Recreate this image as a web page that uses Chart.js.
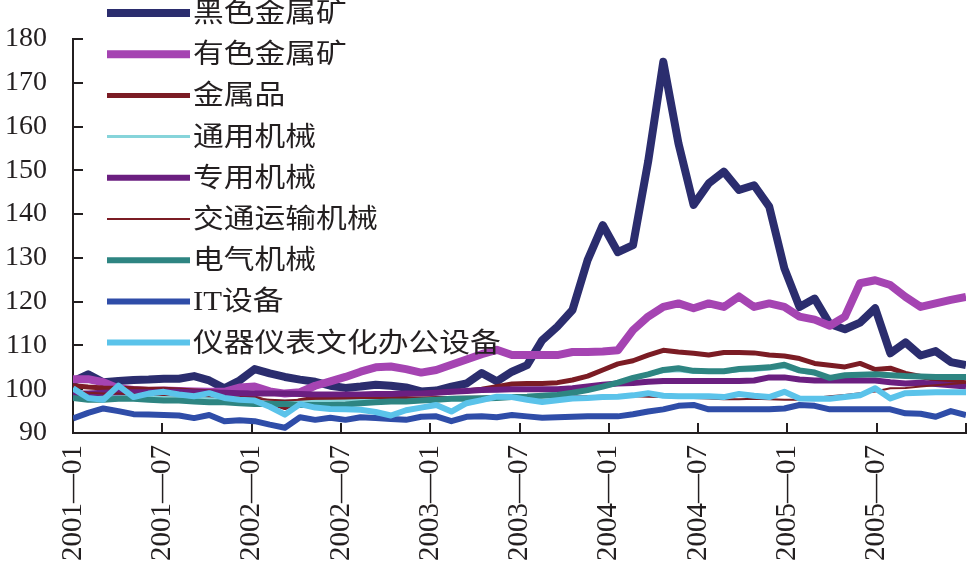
<!DOCTYPE html>
<html lang="zh">
<head>
    <meta charset="UTF-8">
    <title>金属及机械行业价格指数</title>
    <script src="https://cdn.jsdelivr.net/npm/chart.js@4.4.1/dist/chart.umd.min.js"></script>
    <style>
        body {
            margin: 0;
            background: #ffffff;
        }
        .wrap {
            width: 970px;
            height: 562px;
            position: relative;
        }
    </style>
</head>
<body>
    <div class="wrap"><canvas id="chart"></canvas></div>

    <script>
        // months 2001-01 .. 2005-12
        const months = [];
        for (let yr = 2001; yr <= 2005; yr++) {
            for (let m = 1; m <= 12; m++) months.push(yr + '-' + String(m).padStart(2, '0'));
        }

        const xTickLabels = ['2001—01', '2001—07', '2002—01', '2002—07', '2003—01',
                             '2003—07', '2004—01', '2004—07', '2005—01', '2005—07', ''];
        const yTicks = [90, 100, 110, 120, 130, 140, 150, 160, 170, 180];

        const seriesNames = ['黑色金属矿', '有色金属矿', '金属品', '通用机械', '专用机械',
                             '交通运输机械', '电气机械', 'IT设备', '仪器仪表文化办公设备'];

        const ferrousOre = [101.8, 103.4, 101.6, 101.9, 102.1, 102.2, 102.4, 102.4, 103.0, 102.0,
                            100.2, 102.0, 104.6, 103.6, 102.8, 102.2, 101.7, 100.8, 100.3, 100.6,
                            101.0, 100.8, 100.4, 99.5, 99.7, 100.6, 101.3, 103.7, 101.8, 104.0,
                            105.5, 111.2, 114.3, 118.1, 129.5, 137.5, 131.3, 132.9, 152.0, 174.8,
                            156.2, 142.1, 147.0, 149.7, 145.5, 146.6, 141.7, 127.6, 118.8, 120.7,
                            114.9, 113.7, 115.2, 118.5, 108.2, 110.7, 107.7, 108.7, 106.2, 105.5];
        const nonferrousOre = [102.3, 102.3, 101.6, 100.2, 99.8, 99.6, 99.7, 99.6, 99.5, 99.4,
                               99.4, 100.4, 100.6, 99.5, 99.0, 99.3, 100.8, 101.8, 102.8, 104.0,
                               105.0, 105.2, 104.6, 103.8, 104.4, 105.6, 106.8, 108.0, 109.0, 107.8,
                               107.8, 107.8, 107.8, 108.5, 108.5, 108.6, 108.9, 113.5, 116.6, 118.8,
                               119.6, 118.5, 119.6, 118.8, 121.2, 118.8, 119.6, 118.8, 116.6, 115.9,
                               114.5, 116.6, 124.2, 124.9, 123.8, 121.1, 118.8, 119.6, 120.4, 121.1];
        const metalProducts = [100.8, 100.5, 100.3, 100.2, 100.1, 100.0, 100.0, 99.8, 99.6, 99.4,
                               99.2, 98.6, 98.0, 97.0, 95.8, 97.4, 98.0, 98.2, 98.3, 98.4,
                               98.5, 98.6, 98.8, 99.0, 99.2, 99.4, 99.6, 100.0, 100.6, 101.2,
                               101.3, 101.3, 101.5, 102.1, 103.0, 104.4, 105.8, 106.5, 107.8, 108.9,
                               108.5, 108.2, 107.8, 108.4, 108.4, 108.3, 107.8, 107.6, 107.0, 105.9,
                               105.5, 105.1, 105.9, 104.5, 104.8, 103.6, 102.9, 102.2, 101.8, 101.5];
        const generalMachinery = [98.8, 98.6, 98.5, 98.5, 98.4, 98.3, 98.2, 98.1, 98.0, 97.9,
                                  97.8, 97.7, 97.6, 97.4, 97.3, 97.3, 97.3, 97.4, 97.5, 97.6,
                                  97.7, 97.8, 97.8, 97.9, 98.0, 98.1, 98.2, 98.3, 98.4, 98.5,
                                  98.6, 98.8, 99.0, 99.4, 100.0, 100.8, 101.6, 102.4, 103.2, 104.0,
                                  104.2, 103.8, 103.8, 103.9, 104.2, 104.3, 104.6, 105.0, 104.0, 103.5,
                                  102.8, 103.0, 103.1, 103.2, 103.0, 102.9, 102.8, 102.8, 102.7, 102.7];
        const specialMachinery = [99.0, 99.0, 99.2, 99.3, 99.3, 99.3, 99.4, 99.4, 99.3, 99.2,
                                  99.2, 99.1, 99.0, 99.0, 99.0, 98.9, 98.8, 98.8, 98.8, 98.8,
                                  98.9, 98.9, 99.0, 99.0, 99.2, 99.4, 99.6, 99.8, 99.9, 100.0,
                                  100.0, 100.0, 100.0, 100.2, 100.6, 101.0, 101.3, 101.4, 101.7, 101.9,
                                  101.9, 101.9, 101.9, 101.9, 101.9, 102.0, 102.7, 102.7, 102.2, 102.0,
                                  102.0, 102.0, 102.0, 102.0, 101.6, 101.3, 101.5, 101.2, 100.9, 100.6];
        const transportMachinery = [99.6, 99.2, 99.0, 99.0, 98.8, 98.8, 98.7, 98.6, 98.5, 98.4,
                                    98.2, 98.0, 97.8, 97.6, 97.4, 97.6, 97.8, 97.8, 97.9, 98.0,
                                    98.0, 98.0, 98.0, 98.1, 98.2, 98.2, 98.3, 98.3, 98.4, 98.4,
                                    98.4, 98.3, 98.3, 98.4, 98.4, 98.5, 98.5, 98.4, 98.3, 98.2,
                                    98.1, 98.0, 97.9, 97.7, 97.7, 97.8, 97.7, 97.6, 97.6, 98.0,
                                    98.4, 98.7, 99.1, 99.5, 100.2, 100.3, 100.6, 100.9, 101.2, 101.5];
        const electricMachinery = [98.0, 97.6, 97.6, 97.8, 97.8, 97.6, 97.4, 97.4, 97.2, 97.0,
                                   97.0, 96.8, 96.6, 96.6, 96.6, 96.4, 96.4, 96.4, 96.5, 96.8,
                                   97.0, 97.2, 97.2, 97.4, 97.6, 97.8, 97.8, 97.9, 98.0, 98.2,
                                   98.3, 98.5, 98.7, 99.2, 99.8, 100.6, 101.5, 102.6, 103.4, 104.4,
                                   104.8, 104.2, 104.1, 104.1, 104.6, 104.8, 105.0, 105.6, 104.3, 103.8,
                                   102.6, 103.2, 103.3, 103.4, 103.2, 103.0, 102.9, 102.8, 102.8, 102.8];
        const itEquipment = [93.3, 94.6, 95.6, 95.0, 94.3, 94.2, 94.1, 94.0, 93.4, 94.1,
                             92.7, 92.9, 92.7, 91.9, 91.2, 93.6, 93.0, 93.5, 93.0, 93.6,
                             93.4, 93.2, 93.0, 93.7, 93.8, 92.7, 93.7, 93.8, 93.6, 94.1,
                             93.8, 93.5, 93.6, 93.7, 93.8, 93.8, 93.8, 94.3, 94.9, 95.4,
                             96.2, 96.4, 95.4, 95.4, 95.4, 95.4, 95.4, 95.6, 96.4, 96.2,
                             95.4, 95.4, 95.4, 95.4, 95.4, 94.5, 94.4, 93.7, 95.0, 94.1];
        const instruments = [100.2, 98.0, 97.6, 100.8, 98.2, 99.0, 99.4, 98.8, 98.4, 99.1,
                             98.0, 97.6, 97.4, 96.0, 94.2, 96.6, 95.8, 95.5, 95.4, 95.3,
                             94.8, 94.0, 95.2, 95.8, 96.4, 94.9, 96.8, 97.5, 98.3, 98.2,
                             97.6, 97.1, 97.5, 97.9, 98.0, 98.2, 98.3, 98.6, 99.1, 98.5,
                             98.4, 98.4, 98.4, 98.2, 98.9, 98.5, 98.2, 99.4, 97.9, 97.8,
                             97.8, 98.2, 98.6, 100.2, 97.9, 99.1, 99.2, 99.3, 99.3, 99.3];

        const allSeries = [ferrousOre, nonferrousOre, metalProducts, generalMachinery, specialMachinery,
                           transportMachinery, electricMachinery, itEquipment, instruments];
        const colors = ['#2b2d6e', '#a544b2', '#7b1c24', '#86d4da', '#6b1f80',
                        '#7b1c24', '#2e8582', '#2f4da8', '#5bc3ea'];
        const widths = [8, 8, 5, 3, 6, 2, 6, 6, 6];

        const axisColor = '#231f20';
        const serif = '"Liberation Serif", "Times New Roman", serif';

        // tick marks point into the plot, like the original
        const innerTicks = {
            id: 'innerTicks',
            beforeDatasetsDraw(chart) {
                const { ctx, chartArea: a, scales: { x, y } } = chart;
                ctx.save();
                ctx.strokeStyle = axisColor;
                ctx.lineWidth = 2;
                ctx.beginPath();
                y.ticks.forEach(t => {
                    const py = Math.round(y.getPixelForValue(t.value));
                    ctx.moveTo(a.left, py);
                    ctx.lineTo(a.left + 10, py);
                });
                x.ticks.forEach(t => {
                    const px = Math.round(x.getPixelForValue(t.value));
                    ctx.moveTo(px, a.bottom);
                    ctx.lineTo(px, a.bottom - 10);
                });
                ctx.stroke();
                ctx.restore();
            }
        };

        // legend stacked down the left side, over the plot
        const sideLegend = {
            id: 'sideLegend',
            afterDraw(chart) {
                const ctx = chart.ctx;
                ctx.save();
                chart.data.datasets.forEach((ds, k) => {
                    const y = 13 + k * 41.2;
                    ctx.strokeStyle = ds.borderColor;
                    ctx.lineWidth = ds.borderWidth;
                    ctx.lineCap = 'butt';
                    ctx.beginPath();
                    ctx.moveTo(107, y);
                    ctx.lineTo(190, y);
                    ctx.stroke();

                    ctx.save();
                    ctx.translate(193, y + 2);
                    ctx.scale(1.14, 1);
                    ctx.fillStyle = axisColor;
                    ctx.font = '27px "Liberation Serif", "Noto Sans CJK SC", serif';
                    ctx.textBaseline = 'middle';
                    ctx.textAlign = 'left';
                    ctx.fillText(ds.label, 0, 0);
                    ctx.restore();
                });
                ctx.restore();
            }
        };

        const datasets = allSeries.map((vals, k) => ({
            label: seriesNames[k],
            data: vals.map((v, i) => ({ x: i, y: v })),
            borderColor: colors[k],
            backgroundColor: colors[k],
            borderWidth: widths[k],
            pointRadius: 0,
            tension: 0,
            borderJoinStyle: 'round',
            fill: false,
            order: allSeries.length - k
        }));

        new Chart(document.getElementById('chart'), {
            type: 'line',
            data: { datasets: datasets },
            options: {
                responsive: true,
                maintainAspectRatio: false,
                animation: false,
                layout: { padding: { top: 39, right: 4, left: 0, bottom: 0 } },
                plugins: {
                    legend: { display: false },
                    tooltip: { enabled: false }
                },
                scales: {
                    x: {
                        type: 'linear',
                        min: 0,
                        max: months.length - 1,
                        afterBuildTicks: (scale) => {
                            scale.ticks = xTickLabels.map((t, k) => ({ value: k * (months.length - 1) / 10 }));
                        },
                        afterFit: (scale) => {
                            scale.height = 129;
                            scale.paddingLeft = 0;
                            scale.paddingRight = 0;
                        },
                        grid: { display: true, drawOnChartArea: false, drawTicks: false },
                        border: { display: true, color: axisColor, width: 2 },
                        ticks: {
                            autoSkip: false,
                            maxRotation: 90,
                            minRotation: 90,
                            padding: 12,
                            color: axisColor,
                            font: { family: serif, size: 29 },
                            callback: (value, index) => xTickLabels[index]
                        }
                    },
                    y: {
                        min: 90,
                        max: 180,
                        afterBuildTicks: (scale) => {
                            scale.ticks = yTicks.map(v => ({ value: v }));
                        },
                        afterFit: (scale) => {
                            scale.width = 73;
                            scale.paddingTop = 0;
                            scale.paddingBottom = 0;
                        },
                        grid: { display: true, drawOnChartArea: false, drawTicks: false },
                        border: { display: true, color: axisColor, width: 2 },
                        ticks: {
                            padding: 26,
                            color: axisColor,
                            font: { family: serif, size: 28 }
                        }
                    }
                }
            },
            plugins: [innerTicks, sideLegend]
        });
    </script>
</body>
</html>
